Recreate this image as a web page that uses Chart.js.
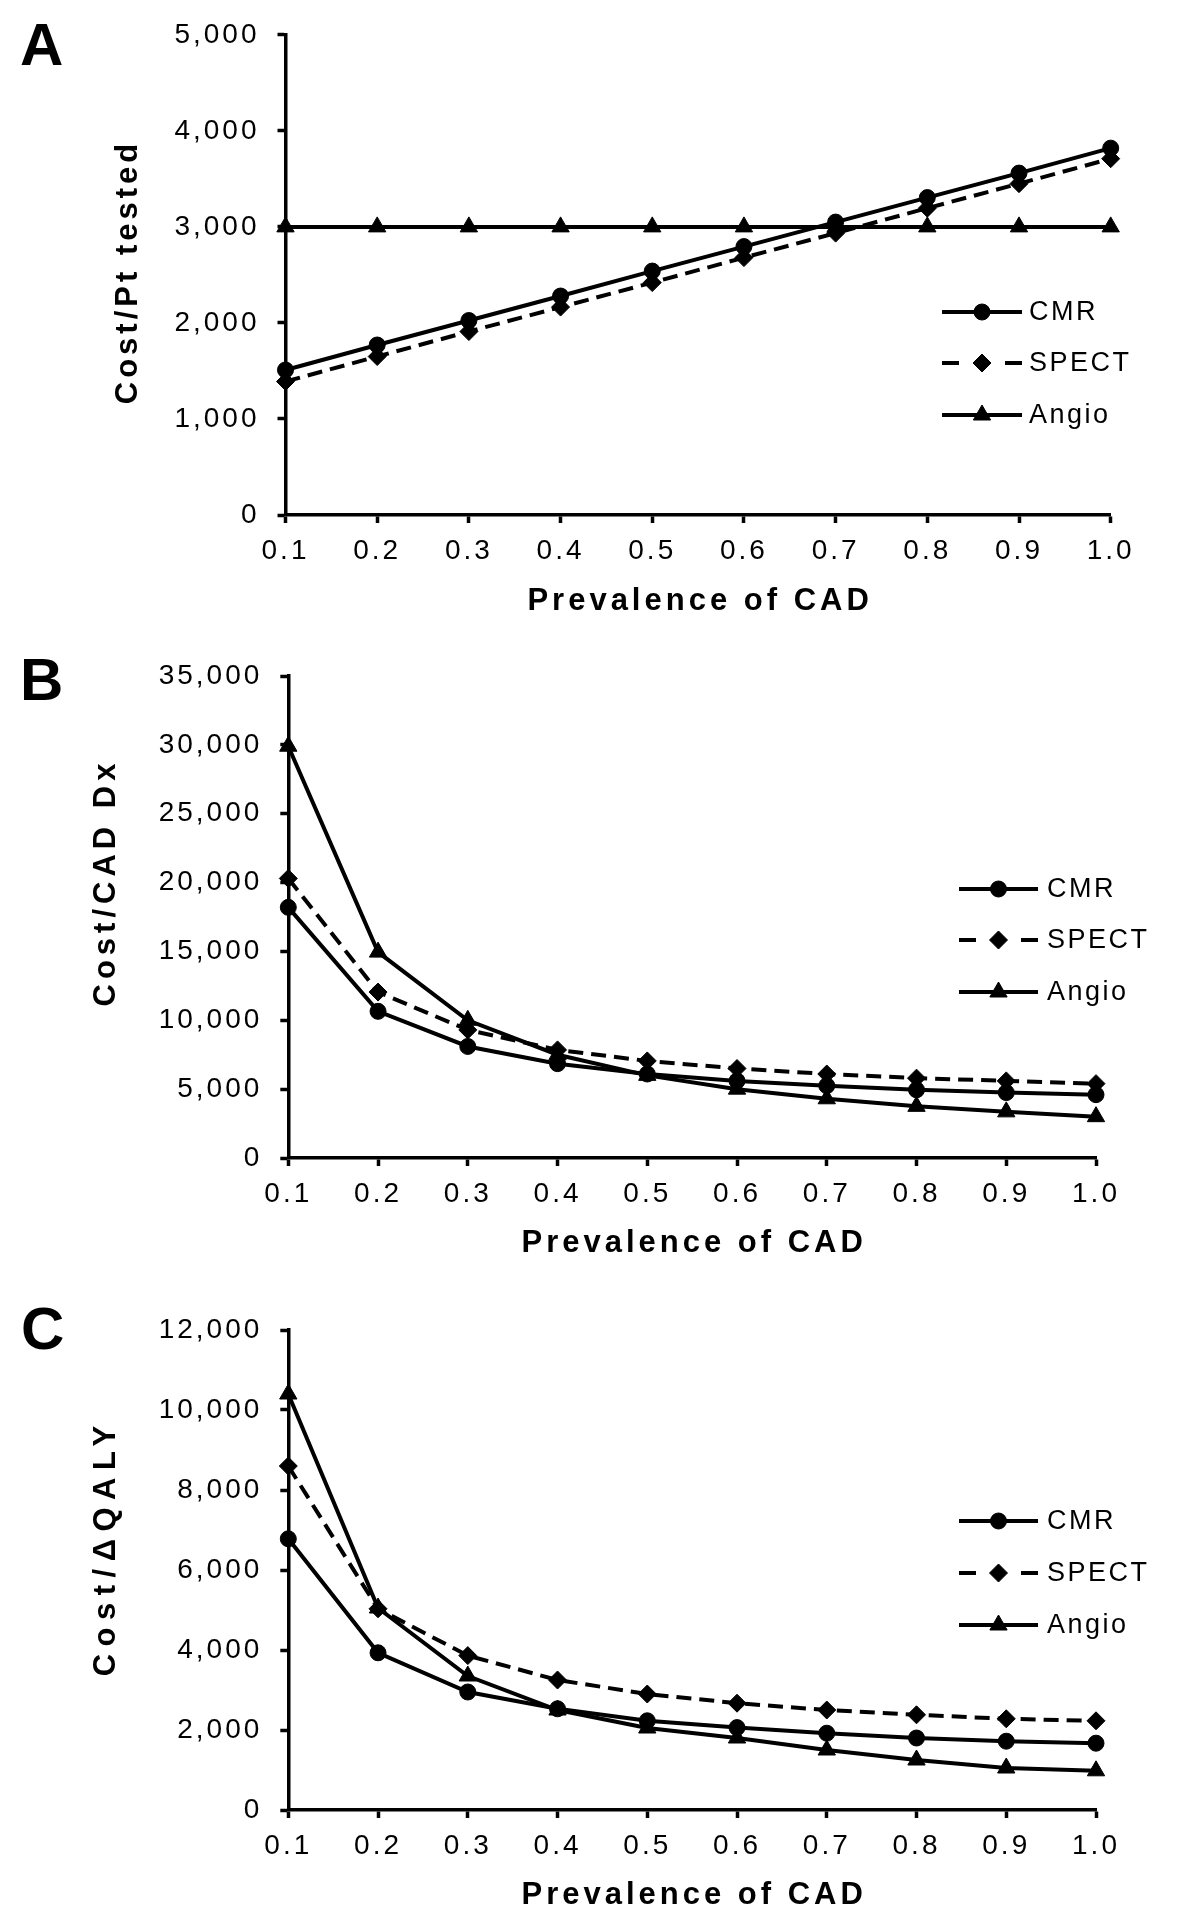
<!DOCTYPE html>
<html>
<head>
<meta charset="utf-8">
<script src="https://cdn.jsdelivr.net/npm/chart.js@4.4.1/dist/chart.umd.min.js"></script>
<style>
html,body{margin:0;padding:0;background:#fff;}
body{width:1200px;height:1929px;position:relative;overflow:hidden;}
.panel{position:absolute;left:0;width:1200px;}
.panel canvas{display:block;}
</style>
</head>
<body>
<div class="panel" style="top:0;height:640px"><canvas id="cA"></canvas></div>
<div class="panel" style="top:640px;height:645px"><canvas id="cB"></canvas></div>
<div class="panel" style="top:1285px;height:644px"><canvas id="cC"></canvas></div>
<script>
// ---------- data ----------
const prevalence = ['0.1','0.2','0.3','0.4','0.5','0.6','0.7','0.8','0.9','1.0'];
const seriesNames = ['CMR','SPECT','Angio'];
const xAxisTitle = 'Prevalence of CAD';

// Panel A: Cost / Pt tested
const costPerPtCMR   = [1510, 1770, 2025, 2280, 2540, 2795, 3050, 3305, 3560, 3820];
const costPerPtSPECT = [1390, 1650, 1910, 2165, 2420, 2680, 2935, 3195, 3450, 3710];
const costPerPtAngio = [3000, 3000, 3000, 3000, 3000, 3000, 3000, 3000, 3000, 3000];

// Panel B: Cost / CAD Dx
const costPerDxCMR   = [18200, 10650, 8100, 6850, 6100, 5600, 5250, 4950, 4750, 4600];
const costPerDxSPECT = [20300, 12050, 9300, 7850, 7050, 6500, 6100, 5800, 5600, 5400];
const costPerDxAngio = [29900, 14950, 10000, 7500, 6000, 5000, 4300, 3750, 3350, 3000];

// Panel C: Cost / ΔQALY
const costPerQalyCMR   = [6780, 3930, 2950, 2530, 2230, 2060, 1920, 1800, 1720, 1670];
const costPerQalySPECT = [8600, 5030, 3860, 3250, 2900, 2670, 2500, 2380, 2280, 2230];
const costPerQalyAngio = [10400, 5050, 3350, 2500, 2050, 1800, 1500, 1250, 1050, 980];

// y-axis ranges
const yMaxA = 5000,  yStepA = 1000;
const yMaxB = 35000, yStepB = 5000;
const yMaxC = 12000, yStepC = 2000;

// ---------- styling ----------
const FONT = '"Liberation Sans", Arial, Helvetica, sans-serif';
const INK = '#000000';
const LINE_W = 4;

function makeDatasets(cmr, spect, angio) {
  return [
    { label: seriesNames[0], data: cmr, borderColor: INK, backgroundColor: INK, borderWidth: LINE_W,
      pointStyle: 'circle', pointRadius: 8, pointBackgroundColor: INK, pointBorderColor: INK, pointBorderWidth: 1,
      borderDash: [], tension: 0, clip: false, order: 1 },
    { label: seriesNames[1], data: spect, borderColor: INK, backgroundColor: INK, borderWidth: LINE_W,
      pointStyle: 'rectRot', pointRadius: 9, pointBackgroundColor: INK, pointBorderColor: INK, pointBorderWidth: 1,
      borderDash: [15, 8], tension: 0, clip: false, order: 2 },
    { label: seriesNames[2], data: angio, borderColor: INK, backgroundColor: INK, borderWidth: LINE_W,
      pointStyle: 'triangle', pointRadius: 10, pointBackgroundColor: INK, pointBorderColor: INK, pointBorderWidth: 1,
      borderDash: [], tension: 0, clip: false, order: 3 }
  ];
}

const panelPlugin = {
  id: 'panelText',
  beforeDraw(chart) {
    chart.ctx.letterSpacing = '3px';
  },
  afterDraw(chart, args, o) {
    const ctx = chart.ctx;
    const ca = chart.chartArea;
    ctx.save();
    ctx.fillStyle = INK;
    ctx.strokeStyle = INK;

    // panel letter
    ctx.letterSpacing = '0px';
    ctx.font = 'bold 60px ' + FONT;
    ctx.textAlign = 'left';
    ctx.textBaseline = 'alphabetic';
    ctx.fillText(o.letter, o.letterX, o.letterY);

    // x-axis title
    ctx.letterSpacing = '4px';
    ctx.font = 'bold 31px ' + FONT;
    ctx.textAlign = 'center';
    ctx.textBaseline = 'alphabetic';
    ctx.fillText(xAxisTitle, (ca.left + ca.right) / 2 + 2, ca.bottom + o.xTitleOffset);

    // y-axis title (rotated)
    ctx.save();
    ctx.letterSpacing = o.yTitleSpacing + 'px';
    ctx.translate(o.yTitleX, o.yTitleY);
    ctx.rotate(-Math.PI / 2);
    ctx.textAlign = 'center';
    ctx.textBaseline = 'middle';
    ctx.fillText(o.yTitle, o.yTitleSpacing / 2, 0);
    ctx.restore();

    // legend
    const lg = o.legend;
    const mid = (lg.x1 + lg.x2) / 2;
    chart.data.datasets.forEach((ds, i) => {
      const y = lg.rows[i];
      ctx.save();
      ctx.lineWidth = ds.borderWidth;
      ctx.strokeStyle = ds.borderColor;
      ctx.setLineDash([]);
      ctx.beginPath();
      if (ds.borderDash && ds.borderDash.length) {
        ctx.moveTo(lg.x1, y); ctx.lineTo(lg.x1 + 17, y);
        ctx.moveTo(lg.x2 - 17, y); ctx.lineTo(lg.x2, y);
      } else {
        ctx.moveTo(lg.x1, y); ctx.lineTo(lg.x2, y);
      }
      ctx.stroke();
      ctx.fillStyle = ds.pointBackgroundColor;
      ctx.strokeStyle = ds.pointBorderColor;
      ctx.lineWidth = ds.pointBorderWidth;
      Chart.helpers.drawPoint(ctx, {pointStyle: ds.pointStyle, rotation: 0, radius: ds.pointRadius, borderWidth: ds.pointBorderWidth}, mid, y);
      ctx.restore();

      ctx.letterSpacing = '2.5px';
      ctx.font = '27px ' + FONT;
      ctx.textAlign = 'left';
      ctx.textBaseline = 'middle';
      ctx.fillStyle = INK;
      ctx.fillText(ds.label, lg.textX, y + 1);
    });
    ctx.restore();
  }
};

function makeChart(id, canvasH, area, datasets, yMax, yStep, panel) {
  const ctx = document.getElementById(id);
  return new Chart(ctx, {
    type: 'line',
    data: { labels: prevalence, datasets: datasets },
    plugins: [panelPlugin],
    options: {
      responsive: true,
      maintainAspectRatio: false,
      animation: false,
      devicePixelRatio: 1,
      locale: 'en-US',
      layout: { padding: { top: area.top, left: 0, right: 1200 - area.right, bottom: 0 } },
      plugins: {
        legend: { display: false },
        tooltip: { enabled: false },
        panelText: panel
      },
      scales: {
        x: {
          type: 'category',
          offset: false,
          grid: { display: true, drawOnChartArea: false, drawTicks: true, tickLength: 8, tickWidth: 3.5, tickColor: INK, offset: false },
          border: { display: true, color: INK, width: 3.5 },
          ticks: { color: INK, font: { family: FONT, size: 28 }, padding: 11, autoSkip: false, maxRotation: 0, minRotation: 0 },
          afterFit: (s) => { s.height = canvasH - area.bottom; }
        },
        y: {
          type: 'linear',
          min: 0, max: yMax,
          grid: { display: true, drawOnChartArea: false, drawTicks: true, tickLength: 8, tickWidth: 3.5, tickColor: INK },
          border: { display: true, color: INK, width: 3.5 },
          ticks: { color: INK, font: { family: FONT, size: 28 }, padding: 18, stepSize: yStep },
          afterFit: (s) => { s.width = area.left; }
        }
      }
    }
  });
}

makeChart('cA', 640, { left: 285.5, right: 1110.7, top: 33.5, bottom: 515 },
  makeDatasets(costPerPtCMR, costPerPtSPECT, costPerPtAngio), yMaxA, yStepA,
  { letter: 'A', letterX: 20, letterY: 65, yTitle: 'Cost/Pt tested', yTitleSpacing: 4, yTitleX: 128, yTitleY: 274, xTitleOffset: 95,
    legend: { x1: 942, x2: 1022, textX: 1029, rows: [312, 363, 415] } });

makeChart('cB', 645, { left: 288.3, right: 1096, top: 36, bottom: 518 },
  makeDatasets(costPerDxCMR, costPerDxSPECT, costPerDxAngio), yMaxB, yStepB,
  { letter: 'B', letterX: 20, letterY: 60, yTitle: 'Cost/CAD Dx', yTitleSpacing: 5, yTitleX: 106, yTitleY: 245, xTitleOffset: 94,
    legend: { x1: 959, x2: 1038, textX: 1047, rows: [249, 300, 352] } });

makeChart('cC', 644, { left: 288.3, right: 1096, top: 45, bottom: 525 },
  makeDatasets(costPerQalyCMR, costPerQalySPECT, costPerQalyAngio), yMaxC, yStepC,
  { letter: 'C', letterX: 21, letterY: 64, yTitle: 'Cost/\u0394QALY', yTitleSpacing: 7.5, yTitleX: 106, yTitleY: 266, xTitleOffset: 94,
    legend: { x1: 959, x2: 1038, textX: 1047, rows: [236, 288, 340] } });
</script>
</body>
</html>
